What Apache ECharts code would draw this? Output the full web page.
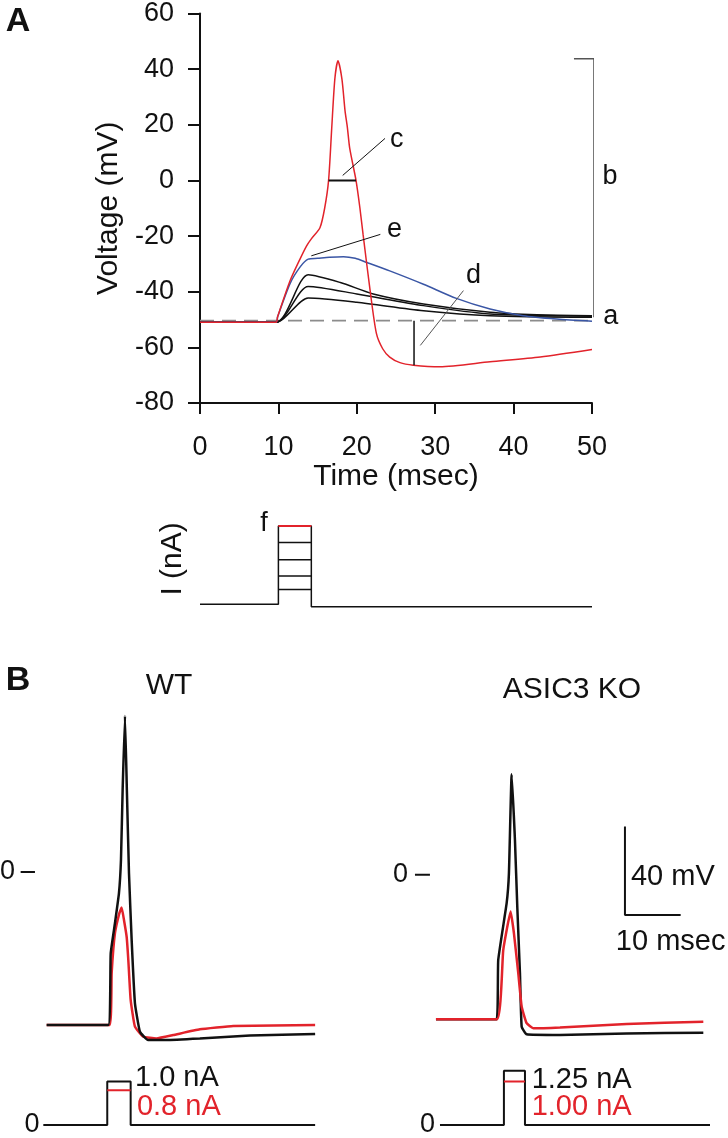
<!DOCTYPE html>
<html><head><meta charset="utf-8">
<style>html,body{margin:0;padding:0;background:#fff}#c{width:728px;height:1138px}</style>
<script src="https://cdn.jsdelivr.net/npm/echarts@6/dist/echarts.min.js"></script>
</head><body><div id="c"></div>
<script>
// ---------- Panel A data (time ms, voltage mV) ----------
const aTimeTicks = [0, 10, 20, 30, 40, 50];
const aVoltTicks = [-80, -60, -40, -20, 0, 20, 40, 60];
const redA = [[0,-51],[9.7,-51],[9.9,-49],[11.5,-36],[12.8,-28],[13.6,-23.5],[14.2,-21],[15.3,-17],[15.9,-10],[16.4,0],[16.8,18.7],[17.2,36.5],[17.6,43],[18.1,36.5],[18.5,25],[18.8,19],[19.1,11.5],[19.9,0],[20.4,-10],[20.8,-19.4],[21.7,-39.6],[22.5,-55],[23.3,-60.5],[24.2,-63.5],[25.5,-65.5],[27.2,-66.4],[30.6,-67],[37,-65.2],[43.4,-63.5],[50,-60.8]];
const blueA = [[0,-51],[9.7,-51],[9.9,-49],[11.5,-37],[12.8,-31],[13.8,-28.3],[15,-28],[16.5,-27.6],[18.3,-27.4],[19.8,-28],[21.3,-29.5],[24.2,-32.5],[28.5,-37.3],[32.7,-42.4],[37,-46.2],[41.2,-48.6],[45.5,-49.8],[50,-50.6]];
const blackA1 = [[0,-51],[9.7,-51],[13.8,-33.9],[17.9,-36.7],[22.1,-40.8],[28.5,-44.4],[37,-47.4],[43,-48.3],[50,-48.6]];
const blackA2 = [[0,-51],[9.7,-51],[13.8,-38.1],[20,-40.8],[28.5,-45],[37,-48],[50,-48.8]];
const blackA3 = [[0,-51],[9.7,-51],[13.8,-42.3],[20,-43.8],[28.5,-46.8],[37,-48.6],[50,-49.2]];
const restLevelA = -50.4;
const halfWidthA = [[16.4,0],[19.9,0]];
const cLeader = [[18.2,1.8],[23.6,15.1]];
const eLeader = [[14.2,-27.1],[23.0,-19.4]];
const ahpLine = [[27.3,-50.4],[27.3,-66.4]];
const dLeader = [[28.1,-59.3],[33.6,-39.6]];
const ampBracket = [[47.7,43.7],[50.25,43.7],[50.25,-49.2]];
const labelsA = [[52.4,-48.9,'a'],[52.3,1.4,'b'],[25.1,14.8,'c'],[34.9,-34.3,'d'],[24.8,-17.7,'e']];
// stimulus of panel A (relative amplitude)
const stimOnA = 10, stimOffA = 14.2;
const stimLevelsA = [0.19, 0.36, 0.57, 0.79];
const stimTopA = 1.0;
const stimPostA = -0.03;

// ---------- Panel B data ----------
const wtBlack = [[0,-69.2],[11.06,-69.2],[11.5,-36.8],[12.26,-23.2],[12.98,-9.6],[13.34,5.4],[13.64,37.1],[14.06,70.6],[14.4,37.1],[14.78,-0.6],[15.26,-30.8],[15.85,-59.4],[16.75,-72.3],[18.2,-76],[21.5,-76],[27.5,-75.3],[36.5,-74],[48.2,-73.3]];
const wtRed = [[0,-69.2],[11.3,-69.2],[11.67,-45.8],[12.26,-27.7],[13.04,-18.7],[13.46,-16.1],[13.88,-21.7],[14.36,-29.3],[14.66,-39.8],[15.08,-57.9],[15.85,-70],[17.35,-74.5],[19.7,-75.3],[22.7,-73.8],[27.5,-71.2],[33.5,-69.7],[48.2,-69.2]];
const koBlack = [[0,-65.4],[10.9,-65.4],[11.18,-38.6],[12.69,-12.9],[13.1,0.6],[13.59,45.4],[14.18,15.7],[14.6,-14.5],[15.08,-44.6],[15.39,-68.8],[16.28,-72.2],[22.26,-72.5],[34.24,-71.8],[48,-71.5]];
const koRed = [[0,-65.4],[10.95,-65.4],[12.08,-34.1],[13.41,-16.7],[14.0,-26.5],[14.78,-44.6],[15.39,-59.7],[16.28,-67.2],[17.47,-69.5],[22.26,-69.1],[34.24,-67.6],[48,-66.5]];
const zeroMarkWT = [[-4.67,0],[-2.1,0]];
const zeroMarkKO = [[-3.77,0],[-1.08,0]];
const scaleBar = [[33.93,21.8],[33.93,-18.2],[43.93,-18.2]];
const stimWT = {on:10.88, off:15.08, hi:1.0, lo:0.8, start:-0.6, end:48.2};
const stimKO = {on:12.2, off:15.98, hi:1.25, lo:1.0, start:0.72, end:49.2};

const FONT = 'Liberation Sans, Arial, sans-serif';
const RED = '#e2232b', BLUE = '#3a56a5', BLK = '#111111', GRAY = '#8c8c8c';

function ln(data, g, color, width, extra) {
  return Object.assign({type:'line', xAxisIndex:g, yAxisIndex:g, data:data, symbol:'none', showSymbol:false,
    lineStyle:{color:color, width:width}, silent:true, animation:false, z:3}, extra || {});
}
function lab(items, g) {
  return {type:'scatter', xAxisIndex:g, yAxisIndex:g, symbolSize:1, clip:false, silent:true, animation:false, z:6,
    itemStyle:{color:'rgba(255,255,255,0)', opacity:1},
    data: items.map(it => ({value:[it[0], it[1]], label:{show:true, position:'inside', formatter:it[2], opacity:1,
      color: it[3] || BLK, textBorderWidth:0, fontSize: it[4] || 27, fontFamily: FONT, align: it[5] || 'center', verticalAlign:'middle'}}))};
}
function hiddenX(g, min, max) { return {gridIndex:g, type:'value', min:min, max:max, show:false}; }
function hiddenY(g, min, max) { return {gridIndex:g, type:'value', min:min, max:max, show:false}; }

const pxMs = 5.57;
const grids = [
  {left:200, top:11, width:392, height:392},          // 0 panel A
  {left:200, top:504.1, width:392, height:109.6},     // 1 panel A stim
  {left:2.1, top:651, width:60*pxMs, height:442},     // 2 WT
  {left:391.4, top:653.7, width:60*pxMs, height:442}, // 3 KO
  {left:2.1, top:1059.8, width:60*pxMs, height:81},   // 4 WT stim
  {left:391.4, top:1059.8, width:60*pxMs, height:81}  // 5 KO stim
];

const axisStyle = {color:BLK, width:2};
const xAxes = [
  {gridIndex:0, type:'value', min:aTimeTicks[0], max:aTimeTicks[aTimeTicks.length-1], interval:10,
    axisLine:{show:true, onZero:false, lineStyle:axisStyle}, axisTick:{show:true, length:11, lineStyle:axisStyle},
    axisLabel:{fontSize:27, color:BLK, margin:31, fontFamily:FONT}, splitLine:{show:false},
    name:'Time (msec)', nameLocation:'middle', nameGap:59, nameTextStyle:{fontSize:30, color:BLK, fontFamily:FONT}},
  hiddenX(1, 0, 50),
  hiddenX(2, -8, 52), hiddenX(3, -8, 52), hiddenX(4, -8, 52), hiddenX(5, -8, 52)
];
const yAxes = [
  {gridIndex:0, type:'value', min:aVoltTicks[0], max:aVoltTicks[aVoltTicks.length-1], interval:20,
    axisLine:{show:true, onZero:false, lineStyle:axisStyle}, axisTick:{show:true, length:12, lineStyle:axisStyle},
    axisLabel:{fontSize:27, color:BLK, margin:26, fontFamily:FONT}, splitLine:{show:false},
    name:'Voltage (mV)', nameLocation:'middle', nameGap:76, nameTextStyle:{fontSize:30, color:BLK, fontFamily:FONT}},
  {gridIndex:1, type:'value', min:-0.12, max:1.28, axisLine:{show:false}, axisTick:{show:false}, axisLabel:{show:false},
    splitLine:{show:false}, name:'I (nA)', nameLocation:'middle', nameGap:12, nameTextStyle:{fontSize:30, color:BLK, fontFamily:FONT}},
  hiddenY(2, -100, 100), hiddenY(3, -100, 100), hiddenY(4, -0.3, 1.5), hiddenY(5, -0.3, 1.5)
];

const sm = {smooth:0.25};
const smB = {smooth:0.12};
const series = [];
// panel A
series.push(ln([[0,restLevelA],[50,restLevelA]], 0, GRAY, 1.6, {lineStyle:{color:GRAY, width:1.6, type:[14,8]}, z:2}));
series.push(ln(blackA3, 0, BLK, 1.5, sm));
series.push(ln(blackA2, 0, BLK, 1.5, sm));
series.push(ln(blackA1, 0, BLK, 1.5, sm));
series.push(ln(blueA, 0, BLUE, 1.5, sm));
series.push(ln(redA, 0, RED, 1.5, sm));
series.push(ln(halfWidthA, 0, BLK, 2));
series.push(ln(cLeader, 0, BLK, 1));
series.push(ln(eLeader, 0, BLK, 1));
series.push(ln(ahpLine, 0, BLK, 1.5));
series.push(ln(dLeader, 0, '#555', 1));
series.push(ln(ampBracket, 0, '#555', 1.5, {clip:false}));
series.push(lab(labelsA, 0));
// panel A stimulus
series.push(ln([[0,0],[stimOnA,0],[stimOnA,stimTopA],[stimOffA,stimTopA],[stimOffA,stimPostA],[50,stimPostA]], 1, BLK, 1.5, {clip:false}));
stimLevelsA.forEach(l => series.push(ln([[stimOnA,l],[stimOffA,l]], 1, BLK, 1.5)));
series.push(ln([[stimOnA,stimTopA],[stimOffA,stimTopA]], 1, RED, 1.8, {z:4}));
series.push(lab([[8.16,1.03,'f']], 1));
// panel B traces
series.push(ln(wtRed, 2, RED, 2.5, smB));
series.push(ln(wtBlack, 2, BLK, 2.5, smB));
series.push(ln(zeroMarkWT, 2, BLK, 2));
series.push(lab([[-7.04,0,'0']], 2));
series.push(ln(koBlack, 3, BLK, 2.5, smB));
series.push(ln(koRed, 3, RED, 2.5, smB));
series.push(ln(zeroMarkKO, 3, BLK, 2));
series.push(ln(scaleBar, 3, BLK, 2));
series.push(lab([[-6.37,0,'0'],[35.0,-0.9,'40 mV',BLK,29,'left'],[32.3,-30.3,'10 msec',BLK,29,'left']], 3));
// panel B stimuli
function stimSeries(s, g) {
  series.push(ln([[s.start,0],[s.on,0],[s.on,s.hi],[s.off,s.hi],[s.off,0],[s.end,0]], g, BLK, 2));
  series.push(ln([[s.on,s.lo],[s.off,s.lo]], g, RED, 2, {z:4}));
}
stimSeries(stimWT, 4);
stimSeries(stimKO, 5);
series.push(lab([[-2.64,0,'0',BLK,27],[15.85,1.07,'1.0 nA',BLK,29,'left'],[16.2,0.41,'0.8 nA',RED,29,'left']], 4));
series.push(lab([[-1.53,0,'0',BLK,27],[17.18,1.03,'1.25 nA',BLK,29,'left'],[17.18,0.41,'1.00 nA',RED,29,'left']], 5));

function txt(x, y, s, size, bold) {
  return {type:'text', x:x, y:y, silent:true, style:{text:s, fontSize:size, fontWeight: bold ? 'bold' : 'normal', fontFamily:FONT,
    fill:BLK, align:'center', verticalAlign:'middle', textAlign:'center', textVerticalAlign:'middle'}};
}

const chart = echarts.init(document.getElementById('c'), null, {renderer:'canvas'});
chart.setOption({
  animation:false,
  backgroundColor:'#fff',
  grid: grids,
  xAxis: xAxes,
  yAxis: yAxes,
  series: series,
  graphic: [txt(18,22,'A',34,true), txt(18,681,'B',34,true), txt(169,686,'WT',30,false), txt(572,690,'ASIC3 KO',30,false)]
});
</script></body></html>
